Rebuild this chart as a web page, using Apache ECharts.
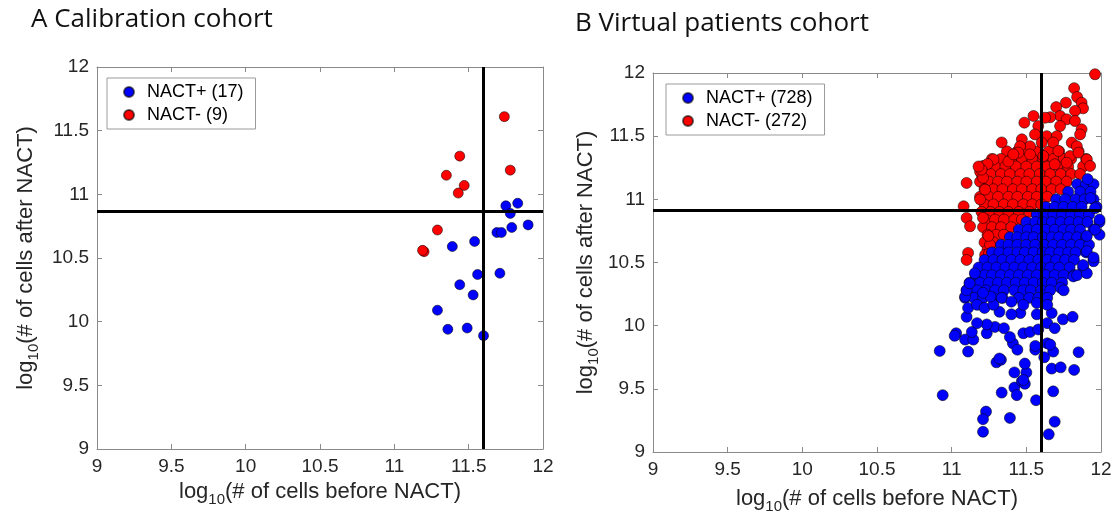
<!DOCTYPE html>
<html>
<head>
<meta charset="utf-8">
<script src="https://cdn.jsdelivr.net/npm/echarts@6/dist/echarts.min.js"></script>
<style>
html,body{margin:0;padding:0;background:#fff;}
#c{width:1117px;height:527px;}
</style>
</head>
<body>
<div id="c"></div>
<script>
// ---------- DATA ----------
const xTicks = [9, 9.5, 10, 10.5, 11, 11.5, 12];
const titleA = 'A Calibration cohort';
const titleB = 'B Virtual patients cohort';
const legendA = ['NACT+ (17)', 'NACT- (9)'];
const legendB = ['NACT+ (728)', 'NACT- (272)'];
const threshA = { x: 11.6, y: 10.87 };
const threshB = { x: 11.6, y: 10.91 };

// Panel A (calibration cohort)
const calibPlus = [
  [11.75,10.91],[11.83,10.93],[11.78,10.85],[11.90,10.76],[11.79,10.74],[11.69,10.70],
  [11.72,10.70],[11.54,10.63],[11.39,10.59],[11.56,10.37],[11.71,10.38],[11.44,10.29],
  [11.53,10.21],[11.29,10.09],[11.36,9.94],[11.49,9.95],[11.60,9.89]
];
const calibMinus = [
  [11.74,11.61],[11.44,11.30],[11.35,11.15],[11.78,11.19],[11.47,11.07],[11.43,11.01],
  [11.29,10.72],[11.20,10.55],[11.19,10.56]
];

// Panel B (virtual patients): dense core read row by row [y, [x...]]
const vpPlusCoreRows = [
  [11.12,[11.84,11.90,11.95]],
  [11.06,[11.78,11.86,11.93]],
  [11.00,[11.70,11.76,11.83,11.89,11.95]],
  [10.94,[11.63,11.69,11.75,11.81,11.87,11.97]],
  [10.88,[11.57,11.62,11.68,11.74,11.80,11.86,11.92]],
  [10.82,[11.50,11.56,11.61,11.67,11.73,11.79,11.85,11.91,11.99]],
  [10.76,[11.45,11.51,11.57,11.63,11.69,11.75,11.80,11.86,11.95]],
  [10.70,[11.39,11.44,11.50,11.55,11.61,11.67,11.72,11.78,11.84,11.90]],
  [10.64,[11.33,11.38,11.44,11.50,11.56,11.62,11.68,11.74,11.80,11.86,11.92]],
  [10.58,[11.27,11.32,11.38,11.44,11.49,11.55,11.61,11.66,11.72,11.78,11.83,11.90]],
  [10.52,[11.22,11.28,11.34,11.40,11.46,11.52,11.58,11.64,11.70,11.76,11.82,11.95]],
  [10.46,[11.18,11.24,11.30,11.36,11.42,11.48,11.54,11.60,11.66,11.72,11.79,11.88]],
  [10.40,[11.16,11.22,11.27,11.33,11.39,11.45,11.51,11.57,11.63,11.69,11.75,11.82]],
  [10.34,[11.12,11.19,11.25,11.31,11.37,11.43,11.49,11.55,11.61,11.67,11.74]],
  [10.28,[11.10,11.17,11.23,11.29,11.35,11.42,11.48,11.53,11.60,11.66]],
  [10.22,[11.09,11.15,11.21,11.28,11.34,11.45,11.52,11.58,11.64]]
];
const vpPlusSparse = [
  [10.94,9.45],[11.335,9.47],[11.42,9.51],[11.436,9.45],[11.47,9.56],[11.49,9.54],[11.42,9.63],
  [11.50,9.63],[11.49,9.70],[11.30,9.71],[11.33,9.73],[11.565,9.41],[11.67,9.66],[11.73,9.67],
  [11.82,9.65],[11.68,9.48],[11.23,9.32],[11.21,9.26],[11.39,9.27],[11.21,9.16],[11.65,9.14],
  [11.69,9.24],[11.62,9.75],[11.48,9.57],
  [10.92,9.80],[11.11,9.795],[11.85,9.79],[11.68,9.795],[11.64,9.86],[11.56,9.81],[11.41,9.86],
  [11.44,9.81],[11.32,9.74],[11.03,9.94],[11.09,9.89],[11.145,9.89],[11.135,9.95],[11.235,9.94],
  [11.29,9.99],[11.39,9.91],[11.35,9.98],[11.48,9.94],[11.525,9.95],[11.58,9.97],[11.64,10.02],
  [11.69,9.98],[11.745,10.05],[11.81,10.07],[11.67,10.10],[11.57,10.09],[11.46,10.10],[11.40,10.09],
  [11.32,10.11],[11.235,10.01],[11.17,10.02],[11.10,10.07],[11.11,10.14],[11.09,10.23],[11.10,10.28],
  [11.12,10.335],[11.155,10.415],[11.17,10.165],[11.22,10.14],[11.28,10.165],[11.26,10.23],
  [11.21,10.26],[11.335,10.22],[11.40,10.19],[11.48,10.165],[11.57,10.18],[11.64,10.165],
  [11.73,10.30],[11.75,10.28],[11.815,10.39],[11.84,10.40],[11.905,10.415],[11.88,10.48],
  [11.95,10.51],[11.56,9.84],[11.66,9.85],[11.02,9.92],
  [11.99,10.84],[11.99,10.72],[11.96,10.76],[11.905,10.71],[11.905,10.59],[11.95,10.54],
  [11.93,11.01],[11.96,10.93],[11.91,11.16]
];
const vpMinusCoreRows = [
  [11.38,[11.37,11.44,11.51,11.58,11.65,11.72,11.85]],
  [11.32,[11.27,11.33,11.40,11.47,11.54,11.61,11.68,11.75,11.80,11.90]],
  [11.26,[11.22,11.29,11.36,11.43,11.50,11.57,11.64,11.71,11.78,11.88]],
  [11.20,[11.20,11.26,11.33,11.39,11.46,11.52,11.59,11.66,11.73,11.80,11.86]],
  [11.14,[11.19,11.25,11.31,11.37,11.44,11.50,11.57,11.63,11.70,11.77]],
  [11.08,[11.22,11.28,11.34,11.41,11.47,11.54,11.60,11.67,11.73]],
  [11.02,[11.19,11.25,11.31,11.38,11.44,11.51,11.57,11.64]],
  [10.96,[11.22,11.28,11.35,11.41,11.48,11.54,11.60]],
  [10.90,[11.20,11.26,11.32,11.38,11.45,11.52]],
  [10.84,[11.23,11.29,11.35,11.42,11.47]],
  [10.78,[11.21,11.27,11.33,11.40]],
  [10.72,[11.24,11.30,11.35]],
  [10.66,[11.22,11.28]],
  [10.60,[11.24]]
];
const vpMinusSparse = [
  [11.96,11.99],[11.82,11.88],[11.84,11.81],[11.87,11.765],[11.88,11.72],[11.765,11.765],
  [11.826,11.70],[11.70,11.73],[11.726,11.66],[11.66,11.65],[11.77,11.633],[11.826,11.62],
  [11.626,11.646],[11.548,11.66],[11.487,11.607],[11.726,11.58],[11.87,11.554],[11.86,11.514],
  [11.804,11.449],[11.838,11.42],[11.58,11.58],[11.637,11.50],[11.704,11.50],[11.558,11.514],
  [11.47,11.475],[11.525,11.42],[11.603,11.45],[11.68,11.45],[11.714,11.383],[11.335,11.45],
  [11.458,11.42],[11.447,11.37],[11.525,11.356],[11.614,11.343],[11.793,11.343],[11.849,11.37],
  [11.905,11.316],[11.927,11.264],[11.28,11.316],[11.21,11.264],[11.38,11.30],[11.413,11.356],
  [11.69,11.277],[11.77,11.29],[11.24,11.28],
  [11.10,11.13],[11.08,10.945],[11.10,10.853],[11.123,10.787],[11.11,10.576],[11.10,10.52],
  [11.224,10.56],[11.257,10.64],[11.246,10.71],[11.21,10.853],[11.19,11.0],[11.224,11.077],
  [11.19,11.22],[11.21,11.17],[11.20,11.235],[11.18,11.26],[11.25,10.57]
];

// ---------- BUILD ----------
function fromRows(rows){ const out=[]; rows.forEach(r=>r[1].forEach(x=>out.push([x,r[0]]))); return out; }
const vpPlus = fromRows(vpPlusCoreRows).concat(vpPlusSparse);
const vpMinus = fromRows(vpMinusCoreRows).concat(vpMinusSparse);

const FONT = '"Liberation Sans", Arial, Helvetica, sans-serif';
const TXT = '#262626';
const AX = '#8a8a8a';

function xAx(grid, pos, showLabel, name, gap){
  return {
    type:'value', gridIndex:grid, position:pos, min:xTicks[0], max:xTicks[xTicks.length-1], interval:0.5,
    axisLine:{show:true, onZero:false, lineStyle:{color:AX, width:1}},
    axisTick:{show:true, inside:true, length:5, lineStyle:{color:AX}},
    axisLabel:{show:showLabel, fontSize:19, color:TXT, fontFamily:FONT, margin:8},
    splitLine:{show:false},
    name: showLabel ? name : '', nameLocation:'middle', nameGap:gap,
    nameTextStyle:{ color:TXT, fontFamily:FONT,
      rich:{ a:{fontSize:22, color:TXT, fontFamily:FONT, lineHeight:30},
             b:{fontSize:15, color:TXT, fontFamily:FONT, lineHeight:30, verticalAlign:'bottom'} } }
  };
}
function yAx(grid, pos, showLabel, name, gap){
  const a = xAx(grid, pos, showLabel, name, gap);
  a.nameRotate = 90;
  return a;
}
const xName = '{a|log}{b|10}{a|(# of cells before NACT)}';
const yName = '{a|log}{b|10}{a|(# of cells after NACT)}';

function mk(color){ return {color:color, opacity:1, borderColor:'rgba(0,0,0,0.6)', borderWidth:0.9}; }
function ml(t){
  return { silent:true, symbol:['none','none'], label:{show:false}, animation:false,
    lineStyle:{color:'#000', width:3, type:'solid', opacity:1},
    data:[{xAxis:t.x},{yAxis:t.y}] };
}
function legend(left, top, data){
  return { left:left, top:top, orient:'vertical', data:data, icon:'circle', itemWidth:10, itemHeight:10,
    itemGap:5, borderColor:'#9a9a9a', borderWidth:1, backgroundColor:'#fff', padding:[5,12,5,16],
    textStyle:{fontSize:18, color:'#000', fontFamily:FONT, padding:[0,0,0,8]} };
}

const option = {
  animation:false,
  title:[
    {text:titleA, left:26, top:2, textStyle:{fontSize:26, fontWeight:'normal', color:'#111', fontFamily:'"Open Sans", "Noto Sans", sans-serif'}},
    {text:titleB, left:570, top:6, textStyle:{fontSize:26, fontWeight:'normal', color:'#111', fontFamily:'"Open Sans", "Noto Sans", sans-serif'}}
  ],
  grid:[
    {left:97, top:67, width:446, height:382, show:false},
    {left:653, top:73, width:448, height:379, show:false}
  ],
  xAxis:[ xAx(0,'bottom',true,xName,26), xAx(0,'top',false,'',0), xAx(1,'bottom',true,xName,32), xAx(1,'top',false,'',0) ],
  yAxis:[ yAx(0,'left',true,yName,56), yAx(0,'right',false,'',0), yAx(1,'left',true,yName,52), yAx(1,'right',false,'',0) ],
  legend:[ legend(107,78,legendA), legend(666,84,legendB) ],
  series:[
    {name:legendA[1], type:'scatter', xAxisIndex:0, yAxisIndex:0, data:calibMinus, symbolSize:10, itemStyle:mk('#ff0000')},
    {name:legendA[0], type:'scatter', xAxisIndex:0, yAxisIndex:0, data:calibPlus, symbolSize:10, itemStyle:mk('#0000ff'), markLine:ml(threshA)},
    {name:legendB[1], type:'scatter', xAxisIndex:2, yAxisIndex:2, data:vpMinus, symbolSize:11, itemStyle:mk('#ff0000')},
    {name:legendB[0], type:'scatter', xAxisIndex:2, yAxisIndex:2, data:vpPlus, symbolSize:11, itemStyle:mk('#0000ff'), markLine:ml(threshB)}
  ]
};
const chart = echarts.init(document.getElementById('c'), null, {renderer:'canvas'});
chart.setOption(option);
</script>
</body>
</html>
